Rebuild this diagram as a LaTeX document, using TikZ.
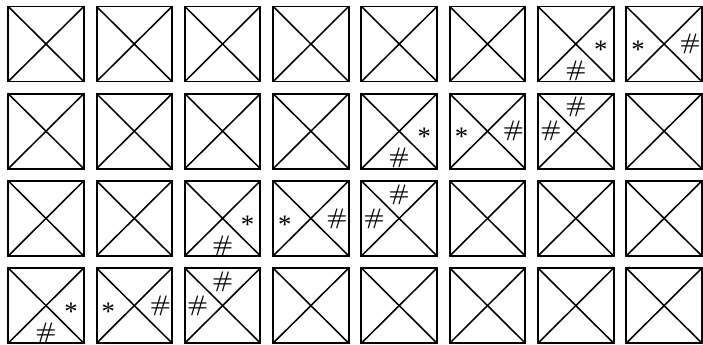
\documentclass[tikz,border=0pt]{standalone}
\usepackage{fontspec}
\newfontfamily\starfont{Liberation Serif}
\usetikzlibrary{calc}

\begin{document}
\begin{tikzpicture}[
  x=0.5mm, y=-0.5mm,
  cell/.style={draw, line width=2.8pt, minimum width=37.75mm, minimum height=37.5mm,
    inner sep=0pt, outer sep=0pt},
  diag/.style={line width=2.2pt},
  star/.style={font=\starfont\fontsize{38}{38}\selectfont, inner sep=0pt},
  hash/.style={font=\fontsize{32}{32}\selectfont\bfseries, inner sep=0pt}
]
\useasboundingbox (0,0) rectangle (703,345);

% 4 x 8 grid of crossed squares
\foreach \r in {1,...,4}
  \foreach \c in {1,...,8} {
    \node[cell] (b-\r-\c) at ({46+88.3*(\c-1)}, {44+87.2*(\r-1)}) {};
    \draw[diag] (b-\r-\c.north west) -- (b-\r-\c.south east);
    \draw[diag] (b-\r-\c.south west) -- (b-\r-\c.north east);
  }

% star on the right, hash at the bottom
\foreach \r/\c in {1/7, 2/5, 3/3, 4/1} {
  \node[star] (sa-\r-\c) at ($(b-\r-\c)+(25,6)$) {*};
  \node[hash] (ha-\r-\c) at ($(b-\r-\c)+(0,27)$) {\#};
}

% star on the left, hash on the right
\foreach \r/\c in {1/8, 2/6, 3/4, 4/2} {
  \node[star] (sb-\r-\c) at ($(b-\r-\c)+(-26,6)$) {*};
  \node[hash] (hb-\r-\c) at ($(b-\r-\c)+(26,0)$) {\#};
}

% hash on the left, hash at the top
\foreach \r/\c in {2/7, 3/5, 4/3} {
  \node[hash] (hc-\r-\c) at ($(b-\r-\c)+(-25,0)$) {\#};
  \node[hash] (hd-\r-\c) at ($(b-\r-\c)+(0,-24)$) {\#};
}
\end{tikzpicture}
\end{document}
